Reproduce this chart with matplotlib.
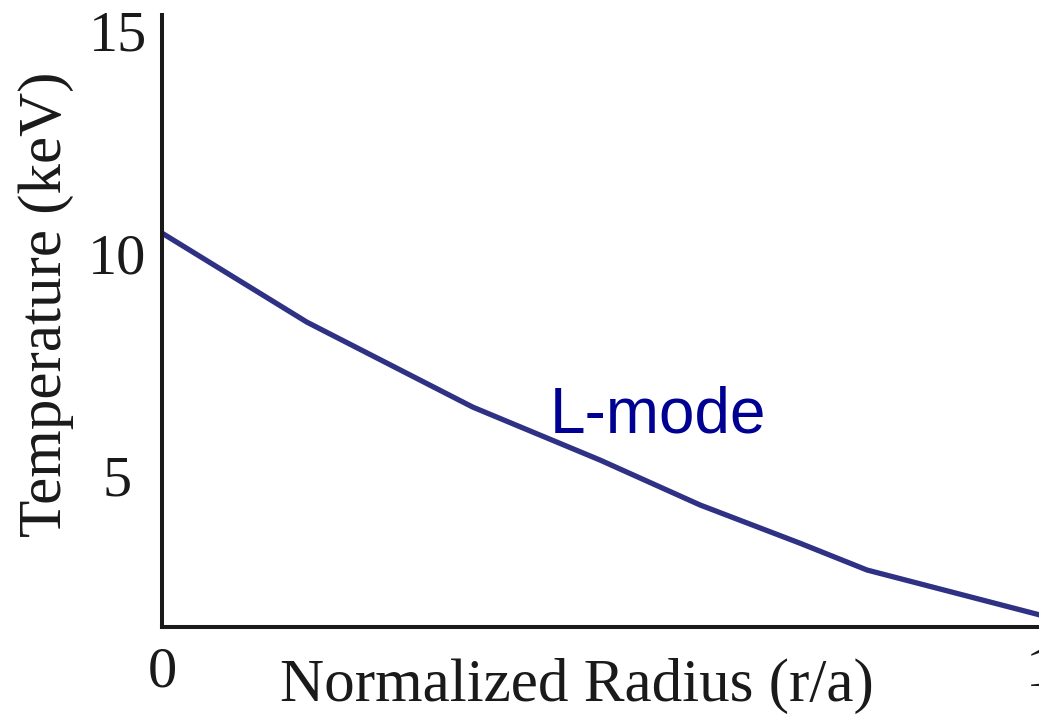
import matplotlib
matplotlib.use("Agg")
import matplotlib.pyplot as plt

radius = [0.0, 0.165, 0.354, 0.499, 0.613, 0.727, 0.803, 1.0]
temperature = [10.45, 8.45, 6.54, 5.35, 4.34, 3.48, 2.88, 1.87]
yticks = [5, 10, 15]
xticks = [0, 1]

fig = plt.figure(figsize=(10.39, 7.14), dpi=100)
ax = fig.add_axes([162/1039, (714-627)/714, 878/1039, 612/714])
ax.plot(radius, temperature, color="#2e3184", lw=3.8, solid_joinstyle="round")
ax.set_xlim(0, 1)
ax.set_ylim(1.6, 15.35)

for s in ["top", "right"]:
    ax.spines[s].set_visible(False)
for s in ["left", "bottom"]:
    ax.spines[s].set_linewidth(2.9)
    ax.spines[s].set_color("#1a1a1a")
    ax.spines[s].set_capstyle("projecting")

serif = "Liberation Serif"
ax.set_yticks(yticks)
ax.set_yticklabels([str(t) for t in yticks], fontsize=42, family=serif, color="#1a1a1a")
ax.set_xticks(xticks)
ax.set_xticklabels([str(t) for t in xticks], fontsize=42, family=serif, color="#1a1a1a")
ax.tick_params(axis="both", length=0)
ax.tick_params(axis="y", pad=32)
ax.tick_params(axis="x", pad=14)
for lab in ax.get_yticklabels():
    lab.set_ha("center")

ax.set_xlabel("Normalized Radius (r/a)", fontsize=44, family=serif, color="#1a1a1a")
ax.xaxis.set_label_coords((577-162)/878, -(701-627)/612, transform=ax.transAxes)
ax.xaxis.label.set_va("baseline")
ax.set_ylabel("Temperature (keV)", fontsize=44, family=serif, color="#1a1a1a")
ax.yaxis.set_label_coords(-(162-46)/878, (627-304)/612)
ax.yaxis.label.set_va("center")

ax.text(0.442, 5.96, "L-mode", fontsize=46, family="Liberation Sans",
        color="#000092", va="baseline", ha="left")

fig.savefig("out.png", dpi=100)
